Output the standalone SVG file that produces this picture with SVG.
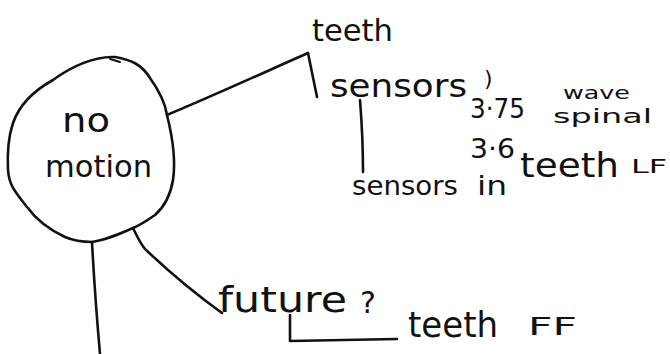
<svg xmlns="http://www.w3.org/2000/svg" width="670" height="354" viewBox="0 0 670 354">
<style>
.ink{fill:none;stroke:#111;stroke-width:2.6;stroke-linecap:round;stroke-linejoin:round}
.t{font-family:"DejaVu Sans","Liberation Sans",sans-serif;fill:#111}
</style>
<rect width="670" height="354" fill="#fff"/>
<g id="connectors">
<path class="ink" d="M167,115 C215,95 265,72 308,53"/>
<path class="ink" d="M308,53 L317,97"/>
<path class="ink" d="M360,100 C362,125 363,150 363,172"/>
<path class="ink" d="M133,228 C137,236 140,243 145,249 C165,268 190,290 222,313"/>
<path class="ink" d="M290,315 L290,341 L397,339"/>
<path class="ink" d="M92,242 C94,280 97,320 100,354"/>
</g>
<g id="no-motion">
<path class="ink" d="M115,57 C132,60 142,65 150,78 C160,92 165,102 167,115 C172,135 176,160 173,180 C170,198 163,208 155,215 C145,222 138,226 133,228 C115,236 105,240 92,242 C80,242 72,240 65,237 C50,230 38,222 27,207 C15,192 9,185 8,170 C7,150 9,135 13,123 C20,103 35,90 53,80 C72,66 95,56 115,57 Z"/>
<path class="ink" d="M110,59 L120,62" style="stroke-width:2"/>
<text class="t" x="62" y="132" font-size="34" textLength="48" lengthAdjust="spacingAndGlyphs">no</text>
<text class="t" x="45" y="177" font-size="31" textLength="107" lengthAdjust="spacingAndGlyphs">motion</text>
</g>
<g id="teeth">
<text class="t" x="312" y="41" font-size="30" textLength="81" lengthAdjust="spacingAndGlyphs">teeth</text>
</g>
<g id="sensors">
<text class="t" x="330" y="97" font-size="32" textLength="137" lengthAdjust="spacingAndGlyphs">sensors</text>
<text class="t" x="484" y="86" font-size="22">)</text>
</g>
<g id="values">
<text class="t" x="470" y="118" font-size="27" textLength="55" lengthAdjust="spacingAndGlyphs">3·75</text>
<text class="t" x="563" y="99" font-size="18" textLength="67" lengthAdjust="spacingAndGlyphs">wave</text>
<text class="t" x="553" y="123" font-size="19" textLength="99" lengthAdjust="spacingAndGlyphs">spinal</text>
<text class="t" x="470" y="158" font-size="26" textLength="45" lengthAdjust="spacingAndGlyphs">3·6</text>
</g>
<g id="sensors-in-teeth">
<text class="t" x="352" y="195" font-size="27" textLength="106" lengthAdjust="spacingAndGlyphs">sensors</text>
<text class="t" x="477" y="195" font-size="27" textLength="30" lengthAdjust="spacingAndGlyphs">in</text>
<text class="t" x="520" y="177" font-size="33" textLength="99" lengthAdjust="spacingAndGlyphs">teeth</text>
<text class="t" x="631" y="173" font-size="19" textLength="36" lengthAdjust="spacingAndGlyphs">LF</text>
</g>
<g id="future">
<text class="t" x="218" y="312" font-size="36" textLength="129" lengthAdjust="spacingAndGlyphs">future</text>
<text class="t" x="360" y="313" font-size="30">?</text>
</g>
<g id="teeth-ff">
<text class="t" x="408" y="337" font-size="36" textLength="90" lengthAdjust="spacingAndGlyphs">teeth</text>
<text class="t" x="528" y="335" font-size="25" textLength="49" lengthAdjust="spacingAndGlyphs">FF</text>
</g>
</svg>
